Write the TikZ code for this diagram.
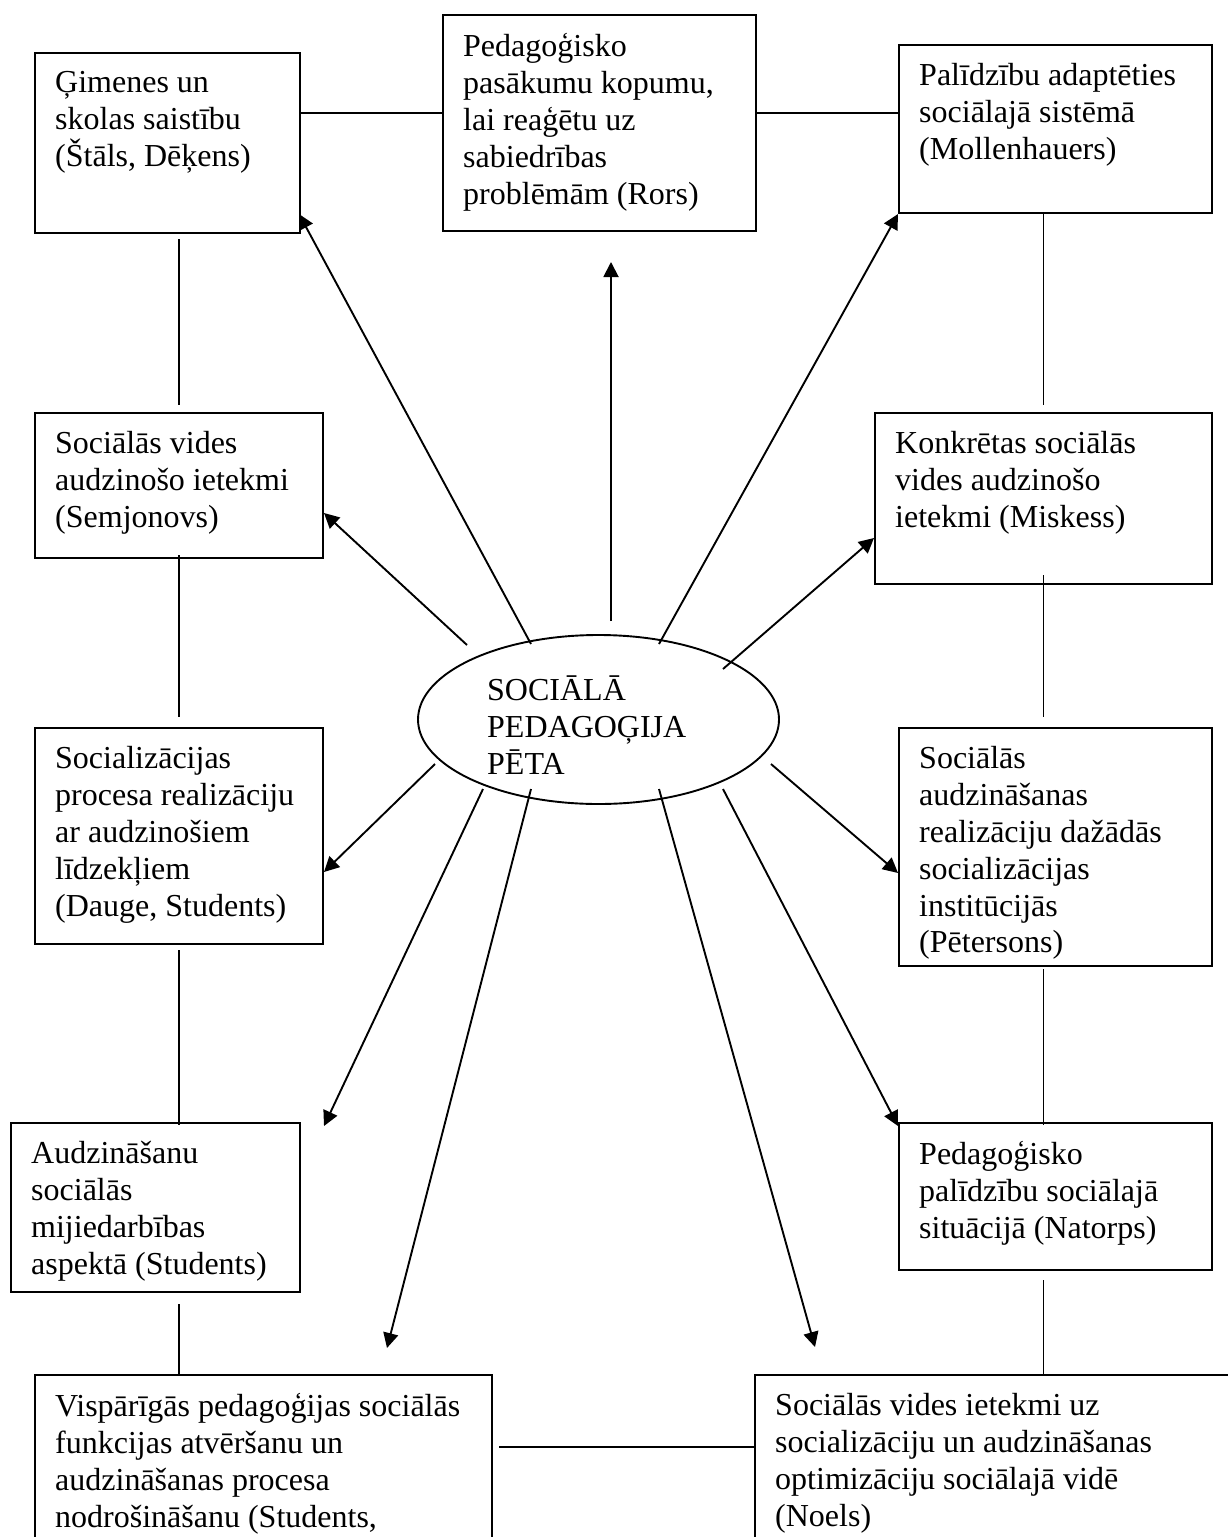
\documentclass[tikz,border=0pt]{standalone}
\usepackage{fontspec}
\setmainfont{Liberation Serif}
\usetikzlibrary{arrows.meta,shapes.geometric}
\begin{document}
\begin{tikzpicture}[x=1pt,y=-1pt,
  box/.style={draw, rectangle, line width=2pt, anchor=north west, inner sep=0pt},
  boxtext/.style={anchor=north west, inner sep=0pt, align=left,
    font=\fontsize{32pt}{36.8pt}\selectfont,
    execute at begin node={\rule{0pt}{30pt}}},
  link/.style={line width=1.9pt},
  ray/.style={line width=1.9pt, -{Triangle[length=15pt,width=15pt]}},
]
\useasboundingbox (0,0) rectangle (1228,1537);
\clip (0,0) rectangle (1228,1537);

% ---- boxes ----
\node[box, minimum width=265pt, minimum height=180pt] (gim) at (34,52) {};
\node[boxtext] (gimT) at (55,71.5) {Ģimenes un\\skolas saistību\\(Štāls, Dēķens)};

\node[box, minimum width=313pt, minimum height=216pt] (ped) at (442,14) {};
\node[boxtext] (pedT) at (463,33.5) {Pedagoģisko\\pasākumu kopumu,\\lai reaģētu uz\\sabiedrības\\problēmām (Rors)};

\node[box, minimum width=313pt, minimum height=168pt] (pal) at (898,44) {};
\node[boxtext] (palT) at (919,63.5) {Palīdzību adaptēties\\sociālajā sistēmā\\(Mollenhauers)};

\node[box, minimum width=288pt, minimum height=145pt] (sv) at (34,412) {};
\node[boxtext] (svT) at (55,431.5) {Sociālās vides\\audzinošo ietekmi\\(Semjonovs)};

\node[box, minimum width=337pt, minimum height=171pt] (konk) at (874,412) {};
\node[boxtext] (konkT) at (895,431.5) {Konkrētas sociālās\\vides audzinošo\\ietekmi (Miskess)};

\node[box, minimum width=288pt, minimum height=216pt] (soc) at (34,727) {};
\node[boxtext] (socT) at (55,746.5) {Socializācijas\\procesa realizāciju\\ar audzinošiem\\līdzekļiem\\(Dauge, Students)};

\node[box, minimum width=313pt, minimum height=238pt] (sa) at (898,727) {};
\node[boxtext] (saT) at (919,746.5) {Sociālās\\audzināšanas\\realizāciju dažādās\\socializācijas\\institūcijās\\(Pētersons)};

\node[box, minimum width=289pt, minimum height=169pt] (audz) at (10,1122) {};
\node[boxtext] (audzT) at (31,1141.5) {Audzināšanu\\sociālās\\mijiedarbības\\aspektā (Students)};

\node[box, minimum width=313pt, minimum height=147pt] (nat) at (898,1122) {};
\node[boxtext] (natT) at (919,1141.5) {Pedagoģisko\\palīdzību sociālajā\\situācijā (Natorps)};

\node[box, minimum width=457pt, minimum height=240pt] (visp) at (34,1374) {};
\node[boxtext] (vispT) at (55,1393.5) {Vispārīgās pedagoģijas sociālās\\funkcijas atvēršanu un\\audzināšanas procesa\\nodrošināšanu (Students,};

\node[box, minimum width=520pt, minimum height=240pt] (noels) at (754,1374) {};
\node[boxtext] (noelsT) at (775,1393.5) {Sociālās vides ietekmi uz\\socializāciju un audzināšanas\\optimizāciju sociālajā vidē\\(Noels)};

% ---- central ellipse ----
\node[draw, ellipse, line width=1.9pt, minimum width=361pt, minimum height=169pt, inner sep=0pt] (ell) at (598.5,719.5) {};
\node[boxtext] (ellT) at (487,676) {SOCIĀLĀ\\PEDAGOĢIJA\\PĒTA};

% ---- plain links between neighbouring boxes ----
\draw[link] ([yshift=-61pt]gim.north east) coordinate (hTop) -- (hTop -| ped.west);
\draw[link] (hTop -| ped.east) -- (hTop -| pal.west);
\draw[link, shorten <=5pt, shorten >=7pt] (gim.south -| sv.north) -- (sv.north);
\draw[link, shorten <=-4pt, shorten >=10pt] (sv.south) -- (soc.north);
\draw[link, shorten <=5pt, shorten >=-3pt] (soc.south) -- (soc.south |- audz.north);
\draw[link, shorten <=11pt] (audz.south -| soc.south) -- (soc.south |- visp.north);
\draw[link, shorten >=7pt] (pal.south -| konk.north) -- (konk.north);
\draw[link, shorten <=-10pt, shorten >=10pt] (konk.south) -- (konk.south |- sa.north);
\draw[link, shorten <=2pt, shorten >=-3pt] (sa.south -| konk.south) -- (konk.south |- nat.north);
\draw[link, shorten <=9pt] (nat.south -| konk.south) -- (konk.south |- noels.north);
\draw[link] ([xshift=6pt,yshift=-73pt]visp.north east) coordinate (hBot) -- (hBot -| noels.west);

% ---- rays from the ellipse ----
\coordinate (sGim) at (531,644);   \coordinate (tGim) at (299,214);
\coordinate (sPed) at (611,621);   \coordinate (tPed) at (611,262);
\coordinate (sPal) at (659,644);
\coordinate (sSv) at (467,645);    \coordinate (tSv) at (324,513);
\coordinate (sKonk) at (723,669);  \coordinate (tKonk) at (874,538);
\coordinate (sSoc) at (435,764);   \coordinate (tSoc) at (324,872);
\coordinate (sAudz) at (483,789);  \coordinate (tAudz) at (324,1126);
\coordinate (sVisp) at (531,789);  \coordinate (tVisp) at (387,1348);
\coordinate (sNoels) at (659,789); \coordinate (tNoels) at (815,1347);
\coordinate (sNat) at (723,789);   \coordinate (tNat) at (898,1126);
\coordinate (sSa) at (771,764);    \coordinate (tSa) at (898,873);

\draw[ray] (sGim) -- (tGim);
\draw[ray] (sPed) -- (tPed);
\draw[ray] (sPal) -- (pal.south west);
\draw[ray] (sSv) -- (tSv);
\draw[ray] (sKonk) -- (tKonk);
\draw[ray] (sSoc) -- (tSoc);
\draw[ray] (sAudz) -- (tAudz);
\draw[ray] (sVisp) -- (tVisp);
\draw[ray] (sNoels) -- (tNoels);
\draw[ray] (sNat) -- (tNat);
\draw[ray] (sSa) -- (tSa);
\end{tikzpicture}
\end{document}
